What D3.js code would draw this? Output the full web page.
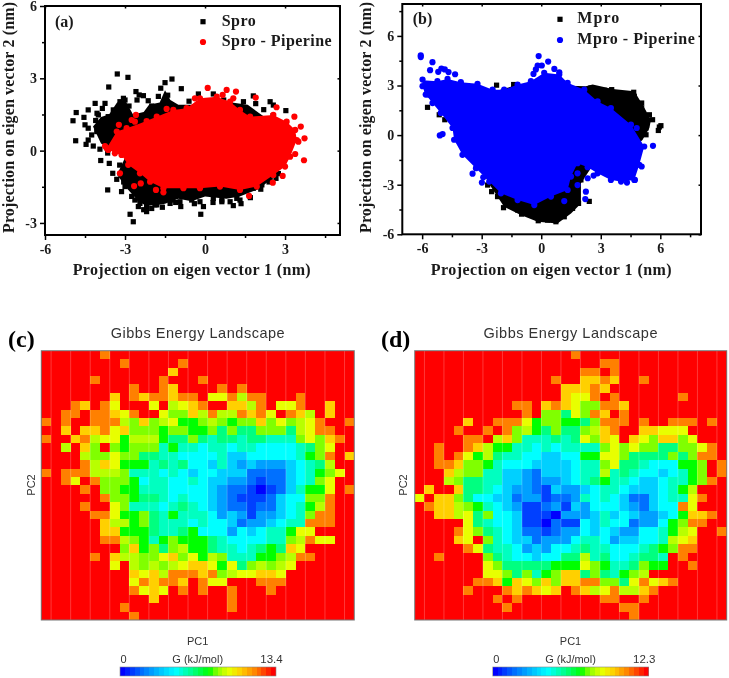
<!DOCTYPE html>
<html><head><meta charset="utf-8">
<script src="https://cdnjs.cloudflare.com/ajax/libs/d3/7.8.5/d3.min.js"></script>
<style>html,body{margin:0;padding:0;background:#fff}svg{display:block;filter:blur(0.4px)}</style>
</head><body><svg id="fig" width="729" height="678"></svg>
<script>
// ---------- panel (a) data, nm ----------
const sproCore=[[-4.2,1],[-3.9,1.4],[-3.6,1.5],[-3.3,2],[-3,2.1],[-2.7,1.5],[-2.3,1.6],[-2.1,1.9],[-1.7,2],[-1.5,2.5],[-1.3,2.1],[-1,1.9],[-.5,1.9],[0,2.1],[1,2],[1.6,1.9],[2.1,1.5],[2.5,1.2],[2.7,-1],[2,-1.6],[1.3,-1.9],[.8,-2],[0,-1.9],[-.5,-2.1],[-1,-2],[-1.5,-2.2],[-2.2,-2.3],[-2.5,-2.1],[-2.9,-1.6],[-3.3,-1],[-3,-.3],[-3.6,.1],[-3.9,.3]];
const sproPoints=[[-3.29,3.18],[-2.89,3.04],[-3.61,2.64],[-1.24,2.97],[-1.5,2.82],[-.89,2.57],[-1.66,2.59],[-2.59,2.45],[-2.47,2.31],[-2.31,2.28],[-2.13,2.07],[-3.06,2.17],[-3.19,2.03],[-4.12,1.96],[-3.75,1.96],[-4.38,1.69],[-4.83,1.58],[-4.95,1.24],[-4.54,1.38],[-4.5,1.07],[-4.38,.93],[-4.85,.41],[-4.38,.44],[-4.46,.26],[-4.19,.19],[-3.94,.06],[-3.91,-.41],[-3.59,-.53],[-3.46,-.94],[-3.31,-1.19],[-3.65,-1.63],[-3.13,-1.7],[-2.81,-2.64],[-2.69,-2.95],[-2.19,-2.53],[-2.5,-2.32],[-1.81,-2.25],[-1.31,-2.19],[-.91,-2.32],[-.06,-2.32],[-.16,-2.64],[.63,-2.05],[1.06,-2.28],[1.31,-2.05],[2.09,-1.6],[2.66,-1.15],[1.81,2.27],[2.44,2.03],[3.03,1.66],[2.56,1.89],[1.44,2.03],[-.25,2.35],[.31,2.35],[-4.05,1.55],[-3.85,1.75],[-4.1,1.25],[-3.95,.85],[-4.25,.65],[-2.85,1.85],[-2.55,2.1],[-2.0,1.85],[-1.75,2.25],[-1.4,2.3],[-.6,2.05],[.7,2.1],[1.9,1.95],[2.2,1.7],[2.55,1.45],[2.75,-.95],[2.4,-1.3],[1.7,-1.95],[1.35,-2.2],[.3,-2.15],[-.4,-2.2],[-1.1,-2.15],[-1.6,-2.35],[-2.0,-2.4],[-2.3,-2.45],[-2.45,-2.0],[-2.75,-1.9],[-3.05,-1.3],[-3.2,-.6],[-3.65,-.1],[-3.75,.4],[-4,1.48],[-3.88,1.13],[-4.06,.79],[-3.63,1.41],[-3.44,1.69],[-3.19,1.83],[-3,2.1],[-3,-1.49],[-2.63,-2.05],[-2.44,-2.19],[-2.19,-2.32],[-1.88,-2.25],[-1.63,-2.12],[-1.25,-2.05],[-.94,-2.12],[-.5,-2.05],[-.19,-2.12],[.31,-1.98],[.63,-2.12],[.94,-2.12],[1.19,-1.98],[1.81,-1.56],[2.13,-1.42],[2.44,-1.22]];
// ---------- panel (a) complex, nm ----------
const sproPipCore=[[-3.31,.79],[-2.94,.93],[-2.44,1.13],[-1.81,1.41],[-1.19,1.69],[-.69,1.76],[-.19,2.17],[.44,2.24],[.94,2.03],[1.31,1.69],[1.69,1.41],[2.56,1.48],[3.06,1.2],[3.38,.86],[3.44,.44],[3.19,-.25],[3,-.66],[2.56,-1.01],[1.94,-1.49],[1.31,-1.63],[.56,-1.49],[-.19,-1.56],[-.81,-1.56],[-1.56,-1.56],[-2.06,-1.29],[-2.44,-.94],[-2.88,-.59],[-3.13,-.18],[-3.38,-.11],[-3.69,.1]];
const sproPipPoints=[[.1,2.6],[.81,2.52],[1.16,2.45],[.66,2.31],[1.9,2.2],[2.68,1.8],[3.35,1.41],[3.59,1],[3.73,.51],[3.5,.37],[3.71,-.4],[3.38,-.14],[2.91,-1.05],[2.54,-1.33],[1.65,-1.88],[-3.19,-.94],[-2.66,-1.47],[-2.41,-1.36],[-1.84,-1.63],[-1.56,-1.73],[-1.44,1.73],[-2.59,1.48],[-2.75,1.27],[-2.63,1.2],[-3.23,1.07],[-2.19,1.23],[-3.75,.19],[-3.63,.03],[-.38,2.17],[1.06,2.17],[1.31,1.41],[-3.31,.79],[-2.94,.93],[-1.81,1.41],[-1.19,1.69],[-.69,1.76],[-.19,2.17],[.44,2.24],[.94,2.03],[1.31,1.69],[1.69,1.41],[2.56,1.48],[3.06,1.2],[3.38,.86],[3.44,.44],[3.19,-.25],[3,-.66],[2.56,-1.01],[1.94,-1.49],[1.31,-1.63],[.56,-1.49],[-.19,-1.56],[-.81,-1.56],[-1.56,-1.56],[-2.06,-1.29],[-2.44,-.94],[-2.88,-.59],[-3.13,-.18],[-3.38,-.11],[-3.69,.1]];
// ---------- panel (b) data, nm ----------
const mproCore=[[-5.3,2.2],[-4,2.7],[-2.2,2.7],[-1.3,3],[1,3],[2.25,2.96],[2.59,3.06],[3.6,2.79],[4.69,2.65],[5.11,1.84],[5.53,.93],[5.45,.43],[5.1,-.3],[4,-1.5],[2.5,-2],[2,-2.91],[2,-4.13],[1.5,-4.74],[.82,-5.34],[-.18,-5.24],[-1.03,-4.84],[-1.87,-4.33],[-2.6,-3],[-3,-2.1],[-3.6,-1.3],[-4.1,-.5],[-4.3,.6]];
const mproPoints=[[2.5,2.85],[2.81,2.75],[3.18,2.71],[3.55,2.75],[4.02,2.51],[4.66,2.59],[4.69,2.35],[5.06,1.94],[5.06,1.64],[5.45,1.23],[5.61,.93],[5.95,.49],[6.03,.57],[5.9,.28],[5.28,.43],[5.28,.02],[-5.73,1.68],[-5.14,1.23],[-4.97,1.54],[-4.86,.93],[-2.25,3.02],[-1.39,3.06],[-2.7,-3.02],[-2.5,-3.42],[-2.2,-3.72],[-1.9,-4.39],[-1.7,-4.03],[-1.19,-4.53],[-.99,-4.78],[-.49,-4.74],[-.15,-5.18],[.32,-5.14],[.74,-5.24],[1.16,-4.94],[1.58,-4.43],[1.88,-4.13],[2.42,-4.01],[2,-2.71]];
const mproPipCore=[[-5.98,3.32],[-5.23,3.26],[-4.72,3.4],[-4.05,3.2],[-3.21,3.1],[-2.45,2.75],[-1.87,2.75],[-1.19,3.06],[-.52,3.26],[.15,3.77],[.91,3.66],[1.33,3.16],[2.17,2.75],[2.84,2.04],[3.51,1.64],[4.52,.63],[5.19,-.69],[4.94,-1.8],[4.69,-2.71],[4.02,-2.81],[3.51,-2.71],[2.84,-2.31],[2.34,-1.94],[1.83,-1.7],[1.5,-2.51],[1.33,-3.32],[.49,-3.72],[-.35,-4.23],[-1.19,-3.93],[-2.03,-3.52],[-2.62,-2.81],[-3.29,-2],[-3.97,-1.19],[-4.39,-.28],[-4.47,.43],[-5.06,1.34],[-5.48,1.94],[-5.82,2.45],[-5.98,2.96]];
const mproPipPoints=[[-6.07,4.82],[-6.07,4.72],[-5.48,4.41],[-5.6,3.93],[-5.19,3.83],[-5.03,4.03],[-4.86,3.97],[-4.67,3.81],[-4.34,3.68],[-.13,4.78],[.35,4.45],[-.18,4.21],[.03,4.21],[-.27,3.97],[-.39,3.7],[.66,4],[.91,3.8],[-5.98,3.36],[-5.76,2.75],[-5.7,2.45],[-4.97,.06],[-5.11,-.02],[-3.46,-2.33],[-2.92,-2.55],[-2.99,-2.87],[5.63,-.65],[4.81,.43],[5.06,-1.9],[4.72,-2.71],[4.32,-2.87],[1.16,-3.99],[2.25,-3.42],[2.22,-3.87],[1.83,-2.31],[1.83,-3.02],[2.34,-2.61],[2.64,-2.45],[-5.23,3.26],[-4.72,3.4],[-4.05,3.2],[-3.21,3.1],[-2.45,2.75],[-1.87,2.75],[-1.19,3.06],[-.52,3.26],[.15,3.77],[.91,3.66],[1.33,3.16],[2.17,2.75],[2.84,2.04],[3.51,1.64],[4.52,.63],[5.19,-.69],[4.94,-1.8],[4.69,-2.71],[4.02,-2.81],[3.51,-2.71],[2.84,-2.31],[2.34,-1.94],[1.83,-1.7],[1.5,-2.51],[1.33,-3.32],[.49,-3.72],[-.35,-4.23],[-1.19,-3.93],[-2.03,-3.52],[-2.62,-2.81],[-3.29,-2],[-3.97,-1.19],[-4.39,-.28],[-4.47,.43],[-5.06,1.34],[-5.48,1.94],[-5.82,2.45],[-5.98,2.96]];
// ---------- axis ticks ----------
const panelAXTicks=[-6,-3,0,3], panelAYTicks=[-3,0,3,6];
const panelBXTicks=[-6,-3,0,3,6], panelBYTicks=[-6,-3,0,3,6];
// ---------- energy levels: key, fraction of the colour-bar maximum, colour ----------
const levelKeys="NDBbcCtgGlLyYOR";
const levelFractions=[0,.07,.13,.2,.27,.35,.41,.47,.57,.62,.66,.71,.78,.88,1];
const levelColors=["#0000ff","#0040ff","#0070ff","#00a0ff","#00d0ff","#00ffff","#00ffc0","#00ff80","#00ff00","#80ff00","#b8ff00","#e8ff00","#ffd000","#ff8000","#ff0000"];
const energyC=[
"RRRRRRORRRRRRRRRRRRRRRRRRRRRRRRR",
"RRRRRRRRORRRRRORRRRRRRRRRRRRRRRR",
"RRRRRRRRRRRRRYRRRRRRRRRRRRRRRRRR",
"RRRRRORRRRRRORRRORRRRRRRRRRRRRRR",
"RRRRRRRRRORROYRRRRORORRRRRRRRRRR",
"RRRRRRRYROYOOYOORyyOLOORRRORRRRR",
"RRROYROyRRRyRLyYORRYYLORyyORRYRR",
"RROOROOYyORRyllYLOLLOYOyROYLRYRR",
"ORORROOOLlYlLyGGlLlGllYlylLyORRO",
"RRYRYYOyYlllGllGGlglgglllgLyOORR",
"ORRYOLyyGLLLGgglgtggtggtttlylYOR",
"RRLRYlRlGllltGttCttCttCCCCtglyRR",
"RRRRLllyllggttCCCCtccCCCCCtGlORY",
"RRRROLYyGGGtgtgCCctcbcbbbcCtgLRR",
"OROOOLLLltttCtCcCCcccBBBBcCtGlyR",
"RROyROlllGCttCCtCccbbBDBBcCtlyRR",
"RRRRORllGGtttCCCCcbBBDNDBctGGyRO",
"RRRRRROllGggtCtCCcbBDDDBcCCllORR",
"RRRRORRyltttCtgtCcbBBDBBcCtGLORR",
"RRRRROOyGGlgtGtttCbcbDbbcCtlOORR",
"RRRRRRYLLGlgtttCtCCcBbbcCttOOORR",
"RRRRRRYYGGGgttgGCCCbCcCttGyyRRRR",
"RRRRRROOLlGtGlGGGgtCCCCttlLOyyRR",
"RRRRRRRRlYGlglLGGgttCtgGgYyRRRRR",
"RRRRRORYLLllyYlyGLltttGGlLOORRRR",
"RRRRRRRyRLlLlLyYYyGyglLlLyRRRRRR",
"RRRRRRRRRYyYLOOOYOlLyyYYyRRRRRRR",
"RRRRRRRRRyOYOOYROyyRRROOORRRRRRR",
"RRRRRRRRROyYyRORORRORRRORRRRRRRR",
"RRRRRRRRRRRYRRRRRRRORRRRRRRRRRRR",
"RRRRRRRRORRRRRRRRRRORRRRRRRRRRRR",
"RRRRRRRRRORRRRRRRRRRRRRRRRRRRRRR"];
const energyD=[
"RRRRRRRRRRRRRRRRORRRRRRRRRRRRRRR",
"RRRRRRRRRRRRRRRRRRROORRRRRRRRRRR",
"RRRRRRRRRRRRRRRRROORORRRRRRRRRRR",
"RRRRRRRRRRRRRRORRYYOYRRORRRRRRRR",
"RRRRRRRRRRRRRRRYYYOYRRRRRRRRRRRR",
"RRRRRRRRRRRRRRRYyyORORRRRRRORRRR",
"RRRRRRRRRROORYOYyllOOYRRRRRRRRRR",
"RRRRRRRRRRRORllgylOYRORRRRRRRRRR",
"RRRRRYRROOOyGllGGglOOORORROOOROR",
"RRRRORROROlLGglgglLYORRYYyyyRRRR",
"RRRRROORLYltttgtgylYyRYylYYlyRRR",
"RRORROYLGGttCtCttttlylyllggllyOR",
"RROROyGLgttCCccCCGGyylgggglglOOR",
"RROOYllGtCCCccccCttlyggtCCCGGlRO",
"RRRYLllttccbBcccCttLtgtCCcCtGlRO",
"RRRLlggttccbBbbcCtgGttCccCttGlOR",
"RYRRYggtCcbbBDcbbcCttCcccCtGLRRR",
"yRYYlgCCccBbbDBBbtCtCcBBcCttyORR",
"ROYYLlGtCcbDDBbDcbCCCcbBcCCOyRRR",
"RRYYLyglCCcDDDNbbbctcCcbbcCGYYOR",
"RRRRRygtCCcDDNBDDCctCCBbbCGlOORR",
"RRRROylgtCcBBDBbbCcCcbbCCtGLyRRO",
"RRRRYyRltCccBbbbCttCbccCCtLyYRRR",
"RRRRROygttCbcbCCtgttCCCtgGlOORRR",
"RRORRRRlgtCCcCCggLtgCCtggtRORRRR",
"RRRRRRRylgggggGGGylGttglGGRRORRR",
"RRRRRRRyylgltGlYYglgtGlLRRRRRRRR",
"RRRRRROOYGYylYlYYOOllgyOyYORRRRR",
"RRRRRORRROYOYyYROYLyOLLYORRRRRRR",
"RRRRRRRRORORRRRRRRROORRORRRRRRRR",
"RRRRRRRRRORRRRRRRRRRROORRRRRRRRR",
"RRRRRRRRRRRRRRRRRRRRRRORRRRRRRRR"];
const energyMaxC=13.4, energyMaxD=12.3;

const svg=d3.select("#fig");
const SERIF='"Liberation Serif","DejaVu Serif",serif', SANS='"Liberation Sans",Arial,sans-serif';

function txt(g,s,x,y,o={}){
  const t=g.append("text").attr("x",x).attr("y",y).text(s)
    .attr("font-family",o.fam||SERIF).attr("font-weight",o.w||"bold").attr("font-size",o.size||13)
    .attr("fill",o.fill||"#1a1a1a").attr("text-anchor",o.anchor||"start");
  if(o.len)t.attr("textLength",o.len).attr("lengthAdjust","spacing");
  if(o.rot)t.attr("transform",`rotate(${o.rot} ${x} ${y})`);
  return t;
}
function scatterPanel(c){
  const g=svg.append("g");
  const x=d3.scaleLinear().domain(c.xDom).range(c.xRange);
  const y=d3.scaleLinear().domain(c.yDom).range(c.yRange);
  const line=d3.line().x(d=>x(d[0])).y(d=>y(d[1])).curve(d3.curveLinearClosed);
  g.append("path").attr("d",line(c.core1)).attr("fill","#000");
  g.selectAll("rect.p").data(c.points1).join("rect").attr("class","p")
    .attr("x",d=>x(d[0])-2.6).attr("y",d=>y(d[1])-2.6).attr("width",5.2).attr("height",5.2).attr("fill","#000");
  g.append("path").attr("d",line(c.core2)).attr("fill",c.color);
  g.selectAll("circle.p").data(c.points2).join("circle").attr("class","p")
    .attr("cx",d=>x(d[0])).attr("cy",d=>y(d[1])).attr("r",3.1).attr("fill",c.color);
  const [x0,x1]=c.xRange,[y0,y1]=c.yRange;
  g.append("rect").attr("x",x0).attr("y",y1).attr("width",x1-x0).attr("height",y0-y1)
    .attr("fill","none").attr("stroke","#000").attr("stroke-width",2);
  const minorX=d3.range(-7.5,c.xDom[1]+.01,1.5).filter(v=>!c.xTicks.includes(v)&&v>c.xDom[0]&&v<c.xDom[1]);
  const minorY=d3.range(-7.5,c.yDom[1]+.01,1.5).filter(v=>!c.yTicks.includes(v)&&v>c.yDom[0]&&v<c.yDom[1]);
  const ax=g.append("g").attr("transform",`translate(0,${y0})`)
    .call(d3.axisBottom(x).tickValues(c.xTicks).tickSize(5).tickFormat(d3.format("d")));
  const ay=g.append("g").attr("transform",`translate(${x0},0)`)
    .call(d3.axisLeft(y).tickValues(c.yTicks).tickSize(5).tickFormat(d3.format("d")));
  const axm=g.append("g").attr("transform",`translate(0,${y0})`)
    .call(d3.axisBottom(x).tickValues(minorX).tickSize(3).tickFormat(""));
  const aym=g.append("g").attr("transform",`translate(${x0},0)`)
    .call(d3.axisLeft(y).tickValues(minorY).tickSize(3).tickFormat(""));
  const axt=g.append("g").attr("transform",`translate(0,${y1})`)
    .call(d3.axisBottom(x).tickValues(c.xTicks).tickSize(2.5).tickFormat(""));
  const ayr=g.append("g").attr("transform",`translate(${x1},0)`)
    .call(d3.axisLeft(y).tickValues(c.yTicks).tickSize(2.5).tickFormat(""));
  [ax,ay,axm,aym,axt,ayr].forEach(a=>{a.select(".domain").remove();a.selectAll("line").attr("stroke","#000").attr("stroke-width",1.5);});
  [ax,ay].forEach(a=>a.selectAll("text").attr("font-family",SERIF).attr("font-weight","bold").attr("font-size",14).attr("fill","#1a1a1a").text(d=>d3.format("d")(d).replace("−","-")));
  ax.selectAll("text").attr("dy",0).attr("y",19);
  ay.selectAll("text").attr("x",-8);
  txt(g,c.panel,c.panelX,c.panelY,{size:16});
  g.append("rect").attr("x",c.legX-2.6).attr("y",c.legY1-2.6).attr("width",5.2).attr("height",5.2).attr("fill","#000");
  g.append("circle").attr("cx",c.legX).attr("cy",c.legY2).attr("r",3.1).attr("fill",c.color);
  txt(g,c.name1,c.legTx,c.legY1+4,{size:16,len:c.len1});
  txt(g,c.name2,c.legTx,c.legY2+4,{size:16,len:c.len2});
  txt(g,"Projection on eigen vector 1 (nm)",c.xLab[0],c.xLab[1],{size:16,len:c.xLab[2]});
  txt(g,"Projection on eigen vector 2 (nm)",c.yLab[0],c.yLab[1],{size:16,len:c.yLab[2],rot:-90});
}
scatterPanel({xDom:[-6,5.06],xRange:[45,340],yDom:[-3.5,6],yRange:[235,6],xTicks:panelAXTicks,yTicks:panelAYTicks,
  core1:sproCore,points1:sproPoints,core2:sproPipCore,points2:sproPipPoints,color:"#ff0000",panel:"(a)",panelX:55,panelY:27,
  legX:203,legY1:21.7,legY2:42,legTx:221.7,name1:"Spro",name2:"Spro - Piperine",len1:34,len2:110,
  xLab:[72.7,275,238],yLab:[14,233,231]});
scatterPanel({xDom:[-7,8.05],xRange:[402.3,701],yDom:[-6,7.93],yRange:[234.3,4],xTicks:panelBXTicks,yTicks:panelBYTicks,
  core1:mproCore,points1:mproPoints,core2:mproPipCore,points2:mproPipPoints,color:"#0000ff",panel:"(b)",panelX:412.7,panelY:24,
  legX:560,legY1:19.3,legY2:40,legTx:577.3,name1:"Mpro",name2:"Mpro - Piperine",len1:42,len2:117.5,
  xLab:[430.7,275,241],yLab:[371,233,231]});

const color=d3.scaleLinear().domain(levelFractions).range(levelColors).clamp(true);
function heatPanel(c){
  const g=svg.append("g");
  const cols=d3.range(c.rows[0].length), rows=d3.range(c.rows.length);
  const x=d3.scaleBand().domain(cols).range(c.xRange);
  const y=d3.scaleBand().domain(rows).range(c.yRange);
  const cells=c.rows.flatMap((r,j)=>r.split("").map((k,i)=>({i,j,energy:levelFractions[levelKeys.indexOf(k)]*c.max})));
  g.selectAll("rect.cell").data(cells).join("rect").attr("class","cell")
    .attr("x",d=>x(d.i)).attr("y",d=>y(d.j)).attr("width",x.bandwidth()).attr("height",y.bandwidth())
    .attr("shape-rendering","crispEdges").attr("fill",d=>color(d.energy/c.max));
  g.selectAll("line.grid").data(cols.filter(i=>i%2==1)).join("line").attr("class","grid")
    .attr("x1",d=>x(d)).attr("x2",d=>x(d)).attr("y1",c.yRange[0]).attr("y2",c.yRange[1])
    .attr("stroke","#fff").attr("stroke-opacity",.22).attr("stroke-width",1);
  g.append("rect").attr("x",c.xRange[0]).attr("y",c.yRange[0]).attr("width",c.xRange[1]-c.xRange[0]).attr("height",c.yRange[1]-c.yRange[0])
    .attr("fill","none").attr("stroke","#777").attr("stroke-width",1);
  const opt={fam:SANS,w:"normal",fill:"#333",anchor:"middle"};
  txt(g,"Gibbs Energy Landscape",c.cx,338,{...opt,size:14.5,len:174});
  txt(g,"PC1",c.cx,645,{...opt,size:11});
  txt(g,"PC2",c.pc2x,485,{...opt,size:11,rot:-90});
  txt(g,c.panel,c.panelX,347,{size:24,fill:"#000"});
  const steps=d3.range(32), bar=d3.scaleBand().domain(steps).range(c.barRange);
  g.selectAll("rect.bar").data(steps).join("rect").attr("class","bar")
    .attr("x",d=>bar(d)).attr("y",667).attr("width",bar.bandwidth()).attr("height",9)
    .attr("shape-rendering","crispEdges").attr("fill",d=>color(d/31));
  g.append("rect").attr("x",c.barRange[0]).attr("y",667).attr("width",c.barRange[1]-c.barRange[0]).attr("height",9)
    .attr("fill","none").attr("stroke","#888").attr("stroke-width",.6);
  txt(g,"0",c.barRange[0]+3.5,663,{...opt,size:11});
  txt(g,"G (kJ/mol)",c.cx,663,{...opt,size:11});
  txt(g,String(c.max),c.barRange[1]-4.5,663,{...opt,size:11.5});
}
heatPanel({rows:energyC,max:energyMaxC,xRange:[41.3,354.3],yRange:[350.7,620],cx:197.7,pc2x:35,panel:"(c)",panelX:8,barRange:[120,276]});
heatPanel({rows:energyD,max:energyMaxD,xRange:[414.7,726.7],yRange:[350.7,620],cx:570.5,pc2x:407,panel:"(d)",panelX:381,barRange:[492.7,648.7]});
</script></body></html>
